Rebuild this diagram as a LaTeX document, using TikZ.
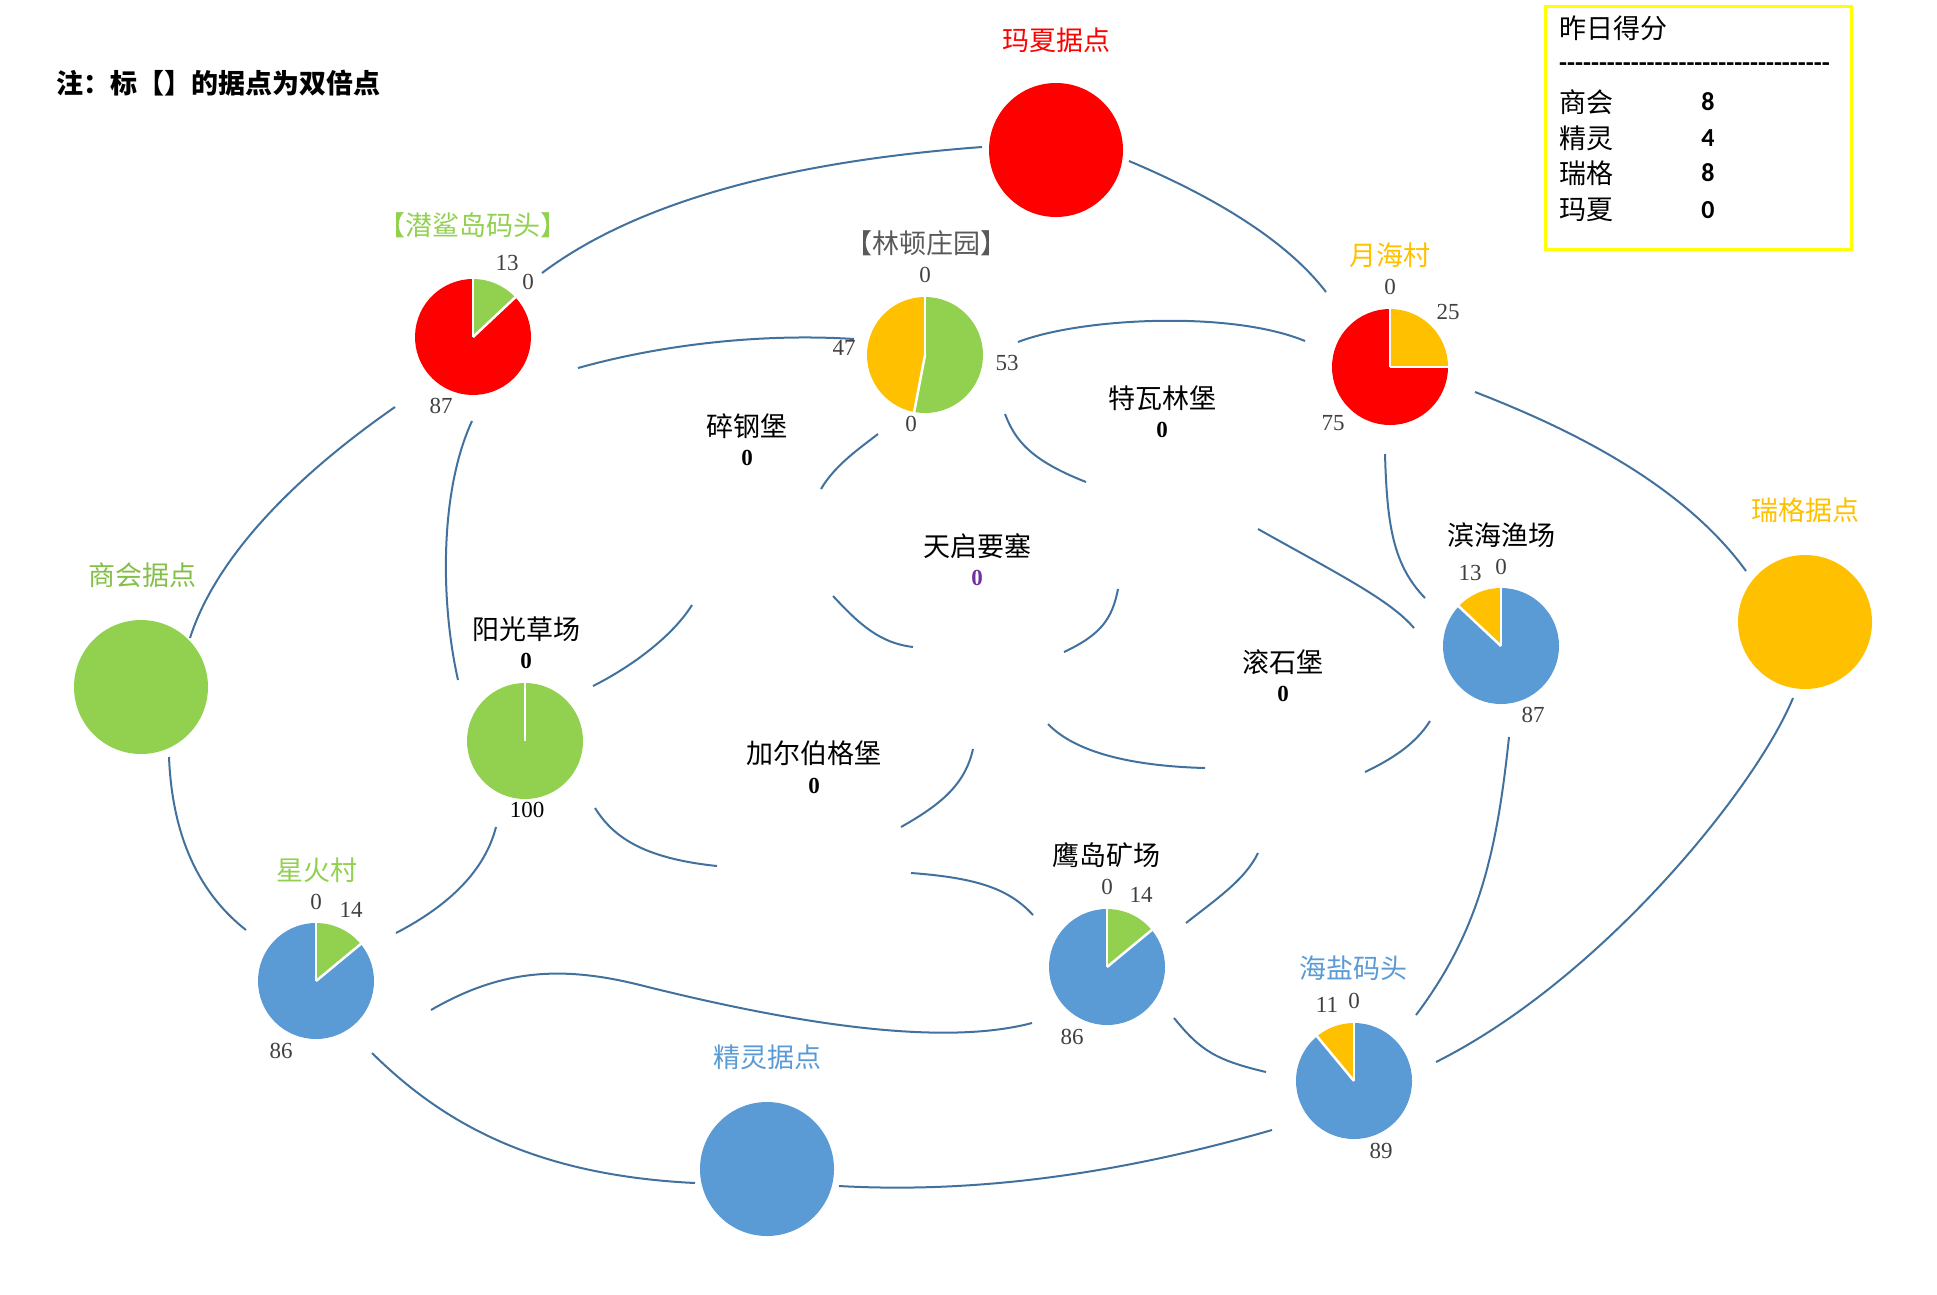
\documentclass[tikz,border=0pt]{standalone}
\usepackage{fontspec}
\setmainfont{Liberation Serif}
\newfontfamily\cjk{Noto Sans CJK SC}
\newfontfamily\carlito{Carlito}
\definecolor{pred}{HTML}{FF0000}
\definecolor{pgreen}{HTML}{92D050}
\definecolor{pyellow}{HTML}{FFC000}
\definecolor{pblue}{HTML}{5B9BD5}
\definecolor{linec}{HTML}{41719C}
\definecolor{numgray}{HTML}{404040}
\definecolor{labgray}{HTML}{595959}
\definecolor{shgreen}{HTML}{84BF47}
\definecolor{tqpurple}{HTML}{7030A0}
\definecolor{boxyellow}{HTML}{FFFF00}
\newcommand{\pieslice}[3]{\fill[#3] (0,0) -- (#1:58) arc[start angle=#1, end angle=#2, radius=58] -- cycle;}
\newcommand{\piecut}[1]{\draw[white, line width=2.5pt] (0,0) -- (#1:59.5);}
\tikzset{
  lab/.style={font=\cjk\fontsize{27}{30}\selectfont, inner sep=0pt},
  num/.style={font=\fontsize{23}{26}\selectfont, text=numgray, inner sep=0pt},
  bnum/.style={font=\bfseries\fontsize{23}{26}\selectfont, text=black, inner sep=0pt},
  pienode/.style={circle, minimum size=116pt, inner sep=0pt},
  bigc/.style={circle, minimum size=134pt, inner sep=0pt},
  conn/.style={draw=linec, line width=2pt},
  lgd/.style={font=\cjk\fontsize{27}{30}\selectfont, inner sep=0pt, anchor=west},
  lgdnum/.style={font=\carlito\bfseries\fontsize{26}{30}\selectfont, inner sep=0pt},
}
\begin{document}
\begin{tikzpicture}[x=1pt, y=-1pt]
\useasboundingbox (0,0) rectangle (1937,1294);

% ---------- connector end points ----------
\coordinate (a1) at (542,273);   \coordinate (a2) at (982,147);
\coordinate (b1) at (1129,161);  \coordinate (b2) at (1326,292);
\coordinate (c1) at (578,368);   \coordinate (c2) at (854,339);
\coordinate (d1) at (1018,342);  \coordinate (d2) at (1305,341);
\coordinate (e1) at (1475,392);  \coordinate (e2) at (1746,571);
\coordinate (f1) at (1385,454);  \coordinate (f2) at (1425,598);
\coordinate (g1) at (1258,529);  \coordinate (g2) at (1414,628);
\coordinate (h1) at (1793,698);  \coordinate (h2) at (1436,1062);
\coordinate (i1) at (1509,737);  \coordinate (i2) at (1416,1015);
\coordinate (j1) at (839,1186);  \coordinate (j2) at (1272,1130);
\coordinate (k1) at (372,1053);  \coordinate (k2) at (695,1183);
\coordinate (l1) at (431,1010);  \coordinate (lm) at (640,985);  \coordinate (l2) at (1032,1023);
\coordinate (m1) at (169,757);   \coordinate (m2) at (246,930);
\coordinate (n1) at (190,638);   \coordinate (n2) at (395,407);
\coordinate (o1) at (472,421);   \coordinate (o2) at (458,680);
\coordinate (p1) at (496,827);   \coordinate (p2) at (396,933);
\coordinate (q1) at (593,686);   \coordinate (q2) at (692,605);
\coordinate (r1) at (595,808);   \coordinate (r2) at (717,866);
\coordinate (s1) at (911,873);   \coordinate (s2) at (1033,915);
\coordinate (t1) at (901,827);   \coordinate (t2) at (973,749);
\coordinate (u1) at (1186,923);  \coordinate (u2) at (1258,853);
\coordinate (v1) at (1174,1018); \coordinate (v2) at (1266,1072);
\coordinate (w1) at (1048,724);  \coordinate (w2) at (1205,768);
\coordinate (x1) at (1365,772);  \coordinate (x2) at (1430,721);
\coordinate (y1) at (833,596);   \coordinate (y2) at (913,647);
\coordinate (z1) at (1118,589);  \coordinate (z2) at (1064,652);
\coordinate (aa1) at (878,434);  \coordinate (aa2) at (821,489);
\coordinate (bb1) at (1005,414); \coordinate (bb2) at (1086,482);

% ---------- connectors ----------
\draw[conn] (a1) .. controls (634,204) and (781,162) .. (a2);
\draw[conn] (b1) .. controls (1224,201) and (1290,245) .. (b2);
\draw[conn] (c1) .. controls (660,345) and (760,333) .. (c2);
\draw[conn] (d1) .. controls (1080,318) and (1230,310) .. (d2);
\draw[conn] (e1) .. controls (1560,425) and (1680,480) .. (e2);
\draw[conn] (f1) .. controls (1387,525) and (1393,565) .. (f2);
\draw[conn] (g1) .. controls (1340,575) and (1390,600) .. (g2);
\draw[conn] (h1) .. controls (1755,790) and (1600,980) .. (h2);
\draw[conn] (i1) .. controls (1497,850) and (1480,930) .. (i2);
\draw[conn] (j1) .. controls (1000,1195) and (1150,1165) .. (j2);
\draw[conn] (k1) .. controls (440,1120) and (530,1175) .. (k2);
\draw[conn] (l1) .. controls (500,970) and (560,965) .. (lm) .. controls (760,1015) and (930,1050) .. (l2);
\draw[conn] (m1) .. controls (172,830) and (195,890) .. (m2);
\draw[conn] (n1) .. controls (215,560) and (290,480) .. (n2);
\draw[conn] (o1) .. controls (440,490) and (440,600) .. (o2);
\draw[conn] (p1) .. controls (485,870) and (450,905) .. (p2);
\draw[conn] (q1) .. controls (625,670) and (670,640) .. (q2);
\draw[conn] (r1) .. controls (612,835) and (640,858) .. (r2);
\draw[conn] (s1) .. controls (980,878) and (1010,890) .. (s2);
\draw[conn] (t1) .. controls (940,805) and (965,785) .. (t2);
\draw[conn] (u1) .. controls (1215,900) and (1245,880) .. (u2);
\draw[conn] (v1) .. controls (1200,1050) and (1215,1060) .. (v2);
\draw[conn] (w1) .. controls (1075,752) and (1130,766) .. (w2);
\draw[conn] (x1) .. controls (1390,760) and (1415,745) .. (x2);
\draw[conn] (y1) .. controls (860,625) and (880,643) .. (y2);
\draw[conn] (z1) .. controls (1112,620) and (1100,635) .. (z2);
\draw[conn] (aa1) .. controls (860,448) and (835,465) .. (aa2);
\draw[conn] (bb1) .. controls (1015,440) and (1030,460) .. (bb2);

% ---------- big circles (bases) ----------
\node[bigc, fill=pred]    (mx) at (1056,150) {};
\node[bigc, fill=pyellow] (rg) at (1805,622) {};
\node[bigc, fill=pgreen]  (sh) at (141,687) {};
\node[bigc, fill=pblue]   (jl) at (767,1169) {};
\node[lab, text=pred]    (mxl) at (1056,40) {玛夏据点};
\node[lab, text=pyellow] (rgl) at (1805,510) {瑞格据点};
\node[lab, text=shgreen] (shl) at (142,575) {商会据点};
\node[lab, text=pblue]   (jll) at (767,1057) {精灵据点};

% ---------- pie nodes ----------
\node[pienode] (qsd) at (473,337) {};
\node[pienode] (ld)  at (925,355) {};
\node[pienode] (yh)  at (1390,367) {};
\node[pienode] (bh)  at (1501,646) {};
\node[pienode] (yd)  at (1107,967) {};
\node[pienode] (hy)  at (1354,1081) {};
\node[pienode] (xh)  at (316,981) {};
\node[pienode] (yg)  at (525,741) {};

% 潜鲨岛码头
\begin{scope}[shift={(qsd.center)}, yscale=-1]
\pieslice{90}{43.2}{pgreen}
\pieslice{43.2}{-270}{pred}
\piecut{90}\piecut{43.2}
\end{scope}
% 林顿庄园
\begin{scope}[shift={(ld.center)}, yscale=-1]
\pieslice{90}{-100.8}{pgreen}
\pieslice{-100.8}{-270}{pyellow}
\piecut{90}\piecut{-100.8}
\end{scope}
% 月海村
\begin{scope}[shift={(yh.center)}, yscale=-1]
\pieslice{90}{0}{pyellow}
\pieslice{0}{-270}{pred}
\piecut{90}\piecut{0}
\end{scope}
% 滨海渔场
\begin{scope}[shift={(bh.center)}, yscale=-1]
\pieslice{90}{-223.2}{pblue}
\pieslice{136.8}{90}{pyellow}
\piecut{90}\piecut{136.8}
\end{scope}
% 鹰岛矿场
\begin{scope}[shift={(yd.center)}, yscale=-1]
\pieslice{90}{39.6}{pgreen}
\pieslice{39.6}{-270}{pblue}
\piecut{90}\piecut{39.6}
\end{scope}
% 海盐码头
\begin{scope}[shift={(hy.center)}, yscale=-1]
\pieslice{90}{-230.4}{pblue}
\pieslice{129.6}{90}{pyellow}
\piecut{90}\piecut{129.6}
\end{scope}
% 星火村
\begin{scope}[shift={(xh.center)}, yscale=-1]
\pieslice{90}{39.6}{pgreen}
\pieslice{39.6}{-270}{pblue}
\piecut{90}\piecut{39.6}
\end{scope}
% 阳光草场
\begin{scope}[shift={(yg.center)}, yscale=-1]
\pieslice{90}{-270}{pgreen}
\piecut{90}
\end{scope}

% ---------- pie labels ----------
\node[lab, text=pgreen]  (qsdl) at (473,225) {【潜鲨岛码头】};
\node[num] (qsd1) at (507,263) {13};
\node[num] (qsd2) at (528,282) {0};
\node[num] (qsd3) at (441,406) {87};

\node[lab, text=labgray] (ldl) at (926,243) {【林顿庄园】};
\node[num] (ld1) at (925,275) {0};
\node[num] (ld2) at (844,348) {47};
\node[num] (ld3) at (1007,363) {53};
\node[num] (ld4) at (911,424) {0};

\node[lab, text=pyellow] (yhl) at (1390,255) {月海村};
\node[num] (yh1) at (1390,287) {0};
\node[num] (yh2) at (1448,312) {25};
\node[num] (yh3) at (1333,423) {75};

\node[lab] (bhl) at (1501,535) {滨海渔场};
\node[num] (bh1) at (1470,573) {13};
\node[num] (bh2) at (1501,567) {0};
\node[num] (bh3) at (1533,715) {87};

\node[lab] (ydl) at (1106,855) {鹰岛矿场};
\node[num] (yd1) at (1107,887) {0};
\node[num] (yd2) at (1141,895) {14};
\node[num] (yd3) at (1072,1037) {86};

\node[lab, text=pblue] (hyl) at (1353,968) {海盐码头};
\node[num] (hy1) at (1327,1005) {11};
\node[num] (hy2) at (1354,1001) {0};
\node[num] (hy3) at (1381,1151) {89};

\node[lab, text=pgreen] (xhl) at (317,870) {星火村};
\node[num] (xh1) at (316,902) {0};
\node[num] (xh2) at (351,910) {14};
\node[num] (xh3) at (281,1051) {86};

\node[lab] (ygl) at (526,629) {阳光草场};
\node[bnum] (yg1) at (526,661) {0};
\node[num, text=black] (yg2) at (527,810) {100};

% ---------- castles (text only) ----------
\node[lab] (sg) at (747,426) {碎钢堡};
\node[bnum] (sg0) at (747,458) {0};
\node[lab] (tw) at (1162,398) {特瓦林堡};
\node[bnum] (tw0) at (1162,430) {0};
\node[lab] (tq) at (977,546) {天启要塞};
\node[bnum, text=tqpurple] (tq0) at (977,578) {0};
\node[lab] (gs) at (1283,662) {滚石堡};
\node[bnum] (gs0) at (1283,694) {0};
\node[lab] (je) at (814,753) {加尔伯格堡};
\node[bnum] (je0) at (814,786) {0};

% ---------- note ----------
\node[lab, font=\cjk\bfseries\fontsize{27}{30}\selectfont, anchor=west] (note) at (56,83) {注：标【】的据点为双倍点};

% ---------- legend ----------
\node[draw=boxyellow, line width=3pt, minimum width=306pt, minimum height=243pt, anchor=north west, inner sep=0pt] (lgdbox) at (1544,5) {};
\node[lgd] (lt) at (1559,28) {昨日得分};
\node[lgdnum, anchor=west] (ldash) at (1559,67) {----------------------------------};
\node[lgd] (lr1) at (1559,102) {商会};
\node[lgd] (lr2) at (1559,138) {精灵};
\node[lgd] (lr3) at (1559,173) {瑞格};
\node[lgd] (lr4) at (1559,210) {玛夏};
\node[lgdnum] (ln1) at (1708,102) {8};
\node[lgdnum] (ln2) at (1708,138) {4};
\node[lgdnum] (ln3) at (1708,173) {8};
\node[lgdnum] (ln4) at (1708,210) {0};
\end{tikzpicture}
\end{document}
